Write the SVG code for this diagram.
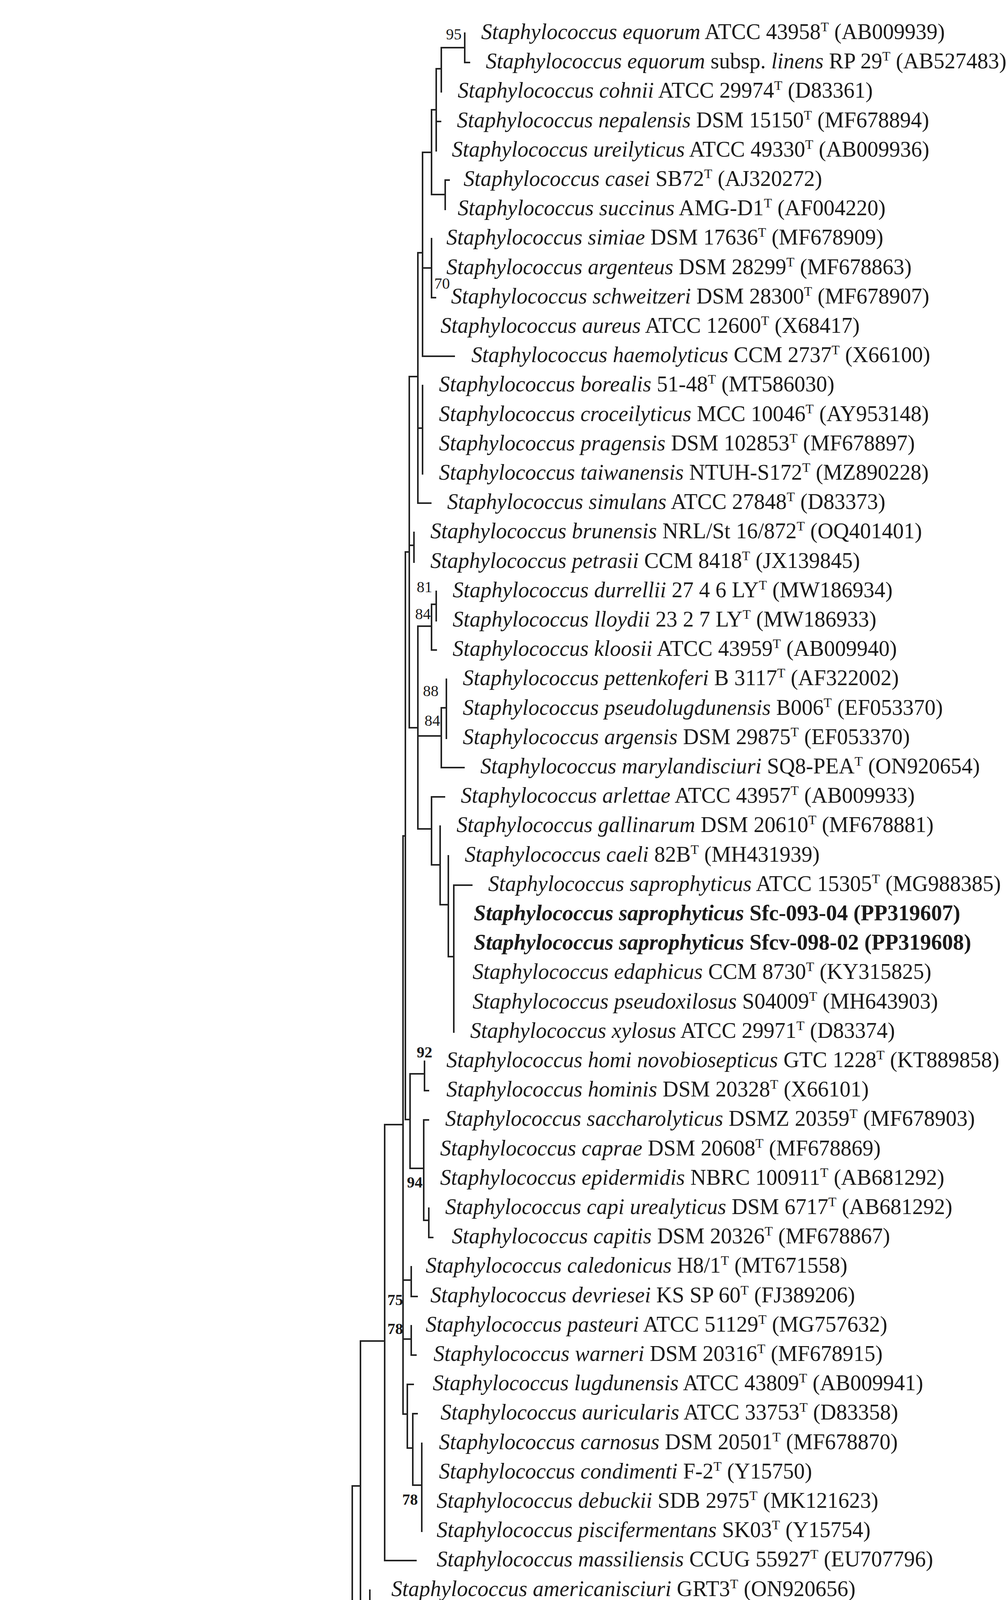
<svg xmlns="http://www.w3.org/2000/svg" width="2576" height="5606" viewBox="0 0 2576 5606">
<style>
text{font-family:"Liberation Serif","Times New Roman",serif;font-size:56px;fill:#1a1a1a}
.i{font-style:italic}
.b{font-weight:bold}
.bs{font-size:40px}
.bb{font-size:40px;font-weight:bold}
.c path{fill:none;stroke:#222;stroke-width:4;stroke-linecap:square}
</style>
<rect width="2576" height="5606" fill="#fff"/>
<g id="connectors" class="c">
<path d="M1190 85V160H1202M1130 122H1190M1130 122V235M1117 176H1130M1117 176V386M1117 311H1128M1105 281H1117M1105 281V498M1140 461V536M1105 498H1140M1140 461H1150"/>
<path d="M1082 390H1105M1082 390V912H1163M1105 611V762H1115M1082 686H1105M1070 647H1082M1070 647V1288H1103M1082 987V1213M1070 1096H1082"/>
<path d="M1048 964H1070M1048 964V1863M1060 1363V1439M1048 1396H1060M1048 1863H1070M1070 1603V2122"/>
<path d="M1070 1603H1105M1105 1547V1664H1117M1117 1514V1589M1105 1547H1117M1070 1884H1130M1130 1812V1965H1188M1143 1739V1890M1130 1812H1143"/>
<path d="M1070 2122H1105M1105 2040V2214M1105 2040H1138M1105 2214H1127M1127 2115V2316M1127 2316H1148M1148 2191V2449M1148 2449H1162M1162 2266V2642M1162 2266H1208"/>
<path d="M1038 1413H1048M1038 1413V2866M1038 2866H1050M1050 2749V2991M1050 2749H1087M1087 2717V2792H1097M1050 2991H1085M1085 2867V3124M1085 2867H1097M1085 3124H1098M1098 3093V3168H1108"/>
<path d="M1032 2140H1038M1032 2140V3620M1032 3277H1053M1053 3243V3319H1068M1032 3428H1053M1053 3394V3469H1065M1032 3620H1043M1043 3544V3707M1043 3544H1058M1043 3707H1057M1057 3619V3802M1057 3619H1068M1057 3802H1080M1080 3695V3920"/>
<path d="M985 2879H1032M985 2879V3995H1065M923 3433H985M923 3433V4176M923 4176H947M947 4071V4296"/>
<path d="M902 3804H923M902 3804V4885M902 4522H922M902 4705H949M949 4672V4747M949 4672H967M902 4885H923M923 4823V4948M923 4823H945M923 4948H937M937 4898V5007M937 5007H949M949 4973V5048H960"/>
<path d="M890 4341H902M890 4341V5274M890 5123H900M878 4806H890M878 4806V5349H904M43 5077H878M43 5077V5424H1206"/>
<path d="M124 5459H379M124 5447V5471M379 5447V5471"/>
</g>
<g id="bootstrap">
<text class="bs" x="1142" y="101">95</text>
<text class="bs" x="1112" y="739">70</text>
<text class="bs" x="1067" y="1516">81</text>
<text class="bs" x="1063" y="1585">84</text>
<text class="bs" x="1083" y="1782">88</text>
<text class="bs" x="1087" y="1858">84</text>
<text class="bb" x="1067" y="2707">92</text>
<text class="bb" x="1042" y="3040">94</text>
<text class="bb" x="992" y="3341">75</text>
<text class="bb" x="992" y="3415">78</text>
<text class="bb" x="1030" y="3852">78</text>
<text class="bb" x="952" y="4215">95</text>
<text class="bb" x="927" y="4675">91</text>
<text class="bb" x="903" y="5053">73</text>
</g>
<g id="n1"><text x="1232" y="100"><tspan class="i">Staphylococcus equorum</tspan> ATCC 43958<tspan font-size="34" dy="-20">T</tspan><tspan dy="20"> (AB009939)</tspan></text></g>
<g id="n2"><text x="1244" y="175"><tspan class="i">Staphylococcus equorum</tspan> subsp. <tspan class="i">linens</tspan> RP 29<tspan font-size="34" dy="-20">T</tspan><tspan dy="20"> (AB527483)</tspan></text></g>
<g id="n3"><text x="1172" y="250"><tspan class="i">Staphylococcus cohnii</tspan> ATCC 29974<tspan font-size="34" dy="-20">T</tspan><tspan dy="20"> (D83361)</tspan></text></g>
<g id="n4"><text x="1170" y="326"><tspan class="i">Staphylococcus nepalensis</tspan> DSM 15150<tspan font-size="34" dy="-20">T</tspan><tspan dy="20"> (MF678894)</tspan></text></g>
<g id="n5"><text x="1157" y="401"><tspan class="i">Staphylococcus ureilyticus</tspan> ATCC 49330<tspan font-size="34" dy="-20">T</tspan><tspan dy="20"> (AB009936)</tspan></text></g>
<g id="n6"><text x="1187" y="476"><tspan class="i">Staphylococcus casei</tspan> SB72<tspan font-size="34" dy="-20">T</tspan><tspan dy="20"> (AJ320272)</tspan></text></g>
<g id="n7"><text x="1172" y="551"><tspan class="i">Staphylococcus succinus</tspan> AMG-D1<tspan font-size="34" dy="-20">T</tspan><tspan dy="20"> (AF004220)</tspan></text></g>
<g id="n8"><text x="1143" y="626"><tspan class="i">Staphylococcus simiae</tspan> DSM 17636<tspan font-size="34" dy="-20">T</tspan><tspan dy="20"> (MF678909)</tspan></text></g>
<g id="n9"><text x="1143" y="702"><tspan class="i">Staphylococcus argenteus</tspan> DSM 28299<tspan font-size="34" dy="-20">T</tspan><tspan dy="20"> (MF678863)</tspan></text></g>
<g id="n10"><text x="1155" y="777"><tspan class="i">Staphylococcus schweitzeri</tspan> DSM 28300<tspan font-size="34" dy="-20">T</tspan><tspan dy="20"> (MF678907)</tspan></text></g>
<g id="n11"><text x="1128" y="852"><tspan class="i">Staphylococcus aureus</tspan> ATCC 12600<tspan font-size="34" dy="-20">T</tspan><tspan dy="20"> (X68417)</tspan></text></g>
<g id="n12"><text x="1207" y="927"><tspan class="i">Staphylococcus haemolyticus</tspan> CCM 2737<tspan font-size="34" dy="-20">T</tspan><tspan dy="20"> (X66100)</tspan></text></g>
<g id="n13"><text x="1124" y="1002"><tspan class="i">Staphylococcus borealis</tspan> 51-48<tspan font-size="34" dy="-20">T</tspan><tspan dy="20"> (MT586030)</tspan></text></g>
<g id="n14"><text x="1124" y="1078"><tspan class="i">Staphylococcus croceilyticus</tspan> MCC 10046<tspan font-size="34" dy="-20">T</tspan><tspan dy="20"> (AY953148)</tspan></text></g>
<g id="n15"><text x="1124" y="1153"><tspan class="i">Staphylococcus pragensis</tspan> DSM 102853<tspan font-size="34" dy="-20">T</tspan><tspan dy="20"> (MF678897)</tspan></text></g>
<g id="n16"><text x="1124" y="1228"><tspan class="i">Staphylococcus taiwanensis</tspan> NTUH-S172<tspan font-size="34" dy="-20">T</tspan><tspan dy="20"> (MZ890228)</tspan></text></g>
<g id="n17"><text x="1145" y="1303"><tspan class="i">Staphylococcus simulans</tspan> ATCC 27848<tspan font-size="34" dy="-20">T</tspan><tspan dy="20"> (D83373)</tspan></text></g>
<g id="n18"><text x="1102" y="1378"><tspan class="i">Staphylococcus brunensis</tspan> NRL/St 16/872<tspan font-size="34" dy="-20">T</tspan><tspan dy="20"> (OQ401401)</tspan></text></g>
<g id="n19"><text x="1102" y="1454"><tspan class="i">Staphylococcus petrasii</tspan> CCM 8418<tspan font-size="34" dy="-20">T</tspan><tspan dy="20"> (JX139845)</tspan></text></g>
<g id="n20"><text x="1159" y="1529"><tspan class="i">Staphylococcus durrellii</tspan> 27 4 6 LY<tspan font-size="34" dy="-20">T</tspan><tspan dy="20"> (MW186934)</tspan></text></g>
<g id="n21"><text x="1159" y="1604"><tspan class="i">Staphylococcus lloydii</tspan> 23 2 7 LY<tspan font-size="34" dy="-20">T</tspan><tspan dy="20"> (MW186933)</tspan></text></g>
<g id="n22"><text x="1159" y="1679"><tspan class="i">Staphylococcus kloosii</tspan> ATCC 43959<tspan font-size="34" dy="-20">T</tspan><tspan dy="20"> (AB009940)</tspan></text></g>
<g id="n23"><text x="1185" y="1754"><tspan class="i">Staphylococcus pettenkoferi</tspan> B 3117<tspan font-size="34" dy="-20">T</tspan><tspan dy="20"> (AF322002)</tspan></text></g>
<g id="n24"><text x="1185" y="1830"><tspan class="i">Staphylococcus pseudolugdunensis</tspan> B006<tspan font-size="34" dy="-20">T</tspan><tspan dy="20"> (EF053370)</tspan></text></g>
<g id="n25"><text x="1185" y="1905"><tspan class="i">Staphylococcus argensis</tspan> DSM 29875<tspan font-size="34" dy="-20">T</tspan><tspan dy="20"> (EF053370)</tspan></text></g>
<g id="n26"><text x="1230" y="1980"><tspan class="i">Staphylococcus marylandisciuri</tspan> SQ8-PEA<tspan font-size="34" dy="-20">T</tspan><tspan dy="20"> (ON920654)</tspan></text></g>
<g id="n27"><text x="1180" y="2055"><tspan class="i">Staphylococcus arlettae</tspan> ATCC 43957<tspan font-size="34" dy="-20">T</tspan><tspan dy="20"> (AB009933)</tspan></text></g>
<g id="n28"><text x="1169" y="2130"><tspan class="i">Staphylococcus gallinarum</tspan> DSM 20610<tspan font-size="34" dy="-20">T</tspan><tspan dy="20"> (MF678881)</tspan></text></g>
<g id="n29"><text x="1190" y="2206"><tspan class="i">Staphylococcus caeli</tspan> 82B<tspan font-size="34" dy="-20">T</tspan><tspan dy="20"> (MH431939)</tspan></text></g>
<g id="n30"><text x="1250" y="2281"><tspan class="i">Staphylococcus saprophyticus</tspan> ATCC 15305<tspan font-size="34" dy="-20">T</tspan><tspan dy="20"> (MG988385)</tspan></text></g>
<g id="n31"><text class="b" x="1213" y="2356"><tspan class="i">Staphylococcus saprophyticus</tspan> Sfc-093-04 (PP319607)</text></g>
<g id="n32"><text class="b" x="1213" y="2431"><tspan class="i">Staphylococcus saprophyticus</tspan> Sfcv-098-02 (PP319608)</text></g>
<g id="n33"><text x="1210" y="2506"><tspan class="i">Staphylococcus edaphicus</tspan> CCM 8730<tspan font-size="34" dy="-20">T</tspan><tspan dy="20"> (KY315825)</tspan></text></g>
<g id="n34"><text x="1210" y="2582"><tspan class="i">Staphylococcus pseudoxilosus</tspan> S04009<tspan font-size="34" dy="-20">T</tspan><tspan dy="20"> (MH643903)</tspan></text></g>
<g id="n35"><text x="1204" y="2657"><tspan class="i">Staphylococcus xylosus</tspan> ATCC 29971<tspan font-size="34" dy="-20">T</tspan><tspan dy="20"> (D83374)</tspan></text></g>
<g id="n36"><text x="1143" y="2732"><tspan class="i">Staphylococcus homi novobiosepticus</tspan> GTC 1228<tspan font-size="34" dy="-20">T</tspan><tspan dy="20"> (KT889858)</tspan></text></g>
<g id="n37"><text x="1143" y="2807"><tspan class="i">Staphylococcus hominis</tspan> DSM 20328<tspan font-size="34" dy="-20">T</tspan><tspan dy="20"> (X66101)</tspan></text></g>
<g id="n38"><text x="1140" y="2882"><tspan class="i">Staphylococcus saccharolyticus</tspan> DSMZ 20359<tspan font-size="34" dy="-20">T</tspan><tspan dy="20"> (MF678903)</tspan></text></g>
<g id="n39"><text x="1127" y="2958"><tspan class="i">Staphylococcus caprae</tspan> DSM 20608<tspan font-size="34" dy="-20">T</tspan><tspan dy="20"> (MF678869)</tspan></text></g>
<g id="n40"><text x="1127" y="3033"><tspan class="i">Staphylococcus epidermidis</tspan> NBRC 100911<tspan font-size="34" dy="-20">T</tspan><tspan dy="20"> (AB681292)</tspan></text></g>
<g id="n41"><text x="1140" y="3108"><tspan class="i">Staphylococcus capi urealyticus</tspan> DSM 6717<tspan font-size="34" dy="-20">T</tspan><tspan dy="20"> (AB681292)</tspan></text></g>
<g id="n42"><text x="1157" y="3183"><tspan class="i">Staphylococcus capitis</tspan> DSM 20326<tspan font-size="34" dy="-20">T</tspan><tspan dy="20"> (MF678867)</tspan></text></g>
<g id="n43"><text x="1090" y="3258"><tspan class="i">Staphylococcus caledonicus</tspan> H8/1<tspan font-size="34" dy="-20">T</tspan><tspan dy="20"> (MT671558)</tspan></text></g>
<g id="n44"><text x="1102" y="3334"><tspan class="i">Staphylococcus devriesei</tspan> KS SP 60<tspan font-size="34" dy="-20">T</tspan><tspan dy="20"> (FJ389206)</tspan></text></g>
<g id="n45"><text x="1090" y="3409"><tspan class="i">Staphylococcus pasteuri</tspan> ATCC 51129<tspan font-size="34" dy="-20">T</tspan><tspan dy="20"> (MG757632)</tspan></text></g>
<g id="n46"><text x="1110" y="3484"><tspan class="i">Staphylococcus warneri</tspan> DSM 20316<tspan font-size="34" dy="-20">T</tspan><tspan dy="20"> (MF678915)</tspan></text></g>
<g id="n47"><text x="1108" y="3559"><tspan class="i">Staphylococcus lugdunensis</tspan> ATCC 43809<tspan font-size="34" dy="-20">T</tspan><tspan dy="20"> (AB009941)</tspan></text></g>
<g id="n48"><text x="1128" y="3634"><tspan class="i">Staphylococcus auricularis</tspan> ATCC 33753<tspan font-size="34" dy="-20">T</tspan><tspan dy="20"> (D83358)</tspan></text></g>
<g id="n49"><text x="1124" y="3710"><tspan class="i">Staphylococcus carnosus</tspan> DSM 20501<tspan font-size="34" dy="-20">T</tspan><tspan dy="20"> (MF678870)</tspan></text></g>
<g id="n50"><text x="1124" y="3785"><tspan class="i">Staphylococcus condimenti</tspan> F-2<tspan font-size="34" dy="-20">T</tspan><tspan dy="20"> (Y15750)</tspan></text></g>
<g id="n51"><text x="1118" y="3860"><tspan class="i">Staphylococcus debuckii</tspan> SDB 2975<tspan font-size="34" dy="-20">T</tspan><tspan dy="20"> (MK121623)</tspan></text></g>
<g id="n52"><text x="1118" y="3935"><tspan class="i">Staphylococcus piscifermentans</tspan> SK03<tspan font-size="34" dy="-20">T</tspan><tspan dy="20"> (Y15754)</tspan></text></g>
<g id="n53"><text x="1118" y="4010"><tspan class="i">Staphylococcus massiliensis</tspan> CCUG 55927<tspan font-size="34" dy="-20">T</tspan><tspan dy="20"> (EU707796)</tspan></text></g>
<g id="n54"><text x="1002" y="4086"><tspan class="i">Staphylococcus americanisciuri</tspan> GRT3<tspan font-size="34" dy="-20">T</tspan><tspan dy="20"> (ON920656)</tspan></text></g>
<g id="n55"><text x="1002" y="4161"><tspan class="i">Staphylococcus microti</tspan> DSM 22147<tspan font-size="34" dy="-20">T</tspan><tspan dy="20"> (MF678892)</tspan></text></g>
<g id="n56"><text x="1002" y="4236"><tspan class="i">Staphylococcus muscae</tspan> CCM 4175<tspan font-size="34" dy="-20">T</tspan><tspan dy="20"> (S83566)</tspan></text></g>
<g id="n57"><text x="1002" y="4311"><tspan class="i">Staphylococcus rostri</tspan> DSM 21968<tspan font-size="34" dy="-20">T</tspan><tspan dy="20"> (MF678902)</tspan></text></g>
<g id="n58"><text x="947" y="4386"><tspan class="i">Staphylococcus cornubiensis</tspan> NW1<tspan font-size="34" dy="-20">T</tspan><tspan dy="20"> (FXUZ01000029)</tspan></text></g>
<g id="n59"><text x="947" y="4462"><tspan class="i">Staphylococcus ursi</tspan> MI 10-1553<tspan font-size="34" dy="-20">T</tspan><tspan dy="20"> (KY019172)</tspan></text></g>
<g id="n60"><text x="975" y="4537"><tspan class="i">Staphylococcus schleiferi</tspan> DSM 4807<tspan font-size="34" dy="-20">T</tspan><tspan dy="20"> (S83568)</tspan></text></g>
<g id="n61"><text x="947" y="4612"><tspan class="i">Staphylococcus coagulans</tspan> ATCC 49545<tspan font-size="34" dy="-20">T</tspan><tspan dy="20"> (AB009945)</tspan></text></g>
<g id="n62"><text x="1002" y="4687"><tspan class="i">Staphylococcus canis</tspan> H16/1A<tspan font-size="34" dy="-20">T</tspan><tspan dy="20"> (MT442037)</tspan></text></g>
<g id="n63"><text x="985" y="4762"><tspan class="i">Staphylococcus felis</tspan> DSM 7377<tspan font-size="34" dy="-20">T</tspan><tspan dy="20"> (MF678879)</tspan></text></g>
<g id="n64"><text x="992" y="4838"><tspan class="i">Staphylococcus chromogenes</tspan> ATCC 43764<tspan font-size="34" dy="-20">T</tspan><tspan dy="20"> (D83360)</tspan></text></g>
<g id="n65"><text x="975" y="4913"><tspan class="i">Staphylococcus ratti</tspan> CCM 9025<tspan font-size="34" dy="-20">T</tspan><tspan dy="20"> (OL352091)</tspan></text></g>
<g id="n66"><text x="988" y="4988"><tspan class="i">Staphylococcus agnetis</tspan> DSM 23656<tspan font-size="34" dy="-20">T</tspan><tspan dy="20"> (MF678861)</tspan></text></g>
<g id="n67"><text x="1002" y="5063"><tspan class="i">Staphylococcus hyicus</tspan> ATCC 11249<tspan font-size="34" dy="-20">T</tspan><tspan dy="20"> (D83368)</tspan></text></g>
<g id="n68"><text x="947" y="5138"><tspan class="i">Staphylococcus lutrae</tspan> DSM 10244<tspan font-size="34" dy="-20">T</tspan><tspan dy="20"> (MF678890)</tspan></text></g>
<g id="n69"><text x="920" y="5214"><tspan class="i">Staphylococcus pseudintermedius</tspan> LMG 22219<tspan font-size="34" dy="-20">T</tspan><tspan dy="20"> (AJ80976)</tspan></text></g>
<g id="n70"><text x="920" y="5289"><tspan class="i">Staphylococcus intermedius</tspan> DSM 20373<tspan font-size="34" dy="-20">T</tspan><tspan dy="20"> (MF678886)</tspan></text></g>
<g id="n71"><text x="945" y="5364"><tspan class="i">Staphylococcus delphini</tspan> ATCC 49171<tspan font-size="34" dy="-20">T</tspan><tspan dy="20"> (AB009938)</tspan></text></g>
<g id="n72"><text x="1268" y="5439"><tspan class="i">Bradyrhizobium japonicum</tspan> LMG 6138<tspan font-size="34" dy="-20">T</tspan><tspan dy="20"> (S46916)</tspan></text></g>
<g id="scale"><text x="195" y="5564" style="font-family:'Liberation Sans',Arial,sans-serif;font-size:48px">0.02</text></g>
</svg>
